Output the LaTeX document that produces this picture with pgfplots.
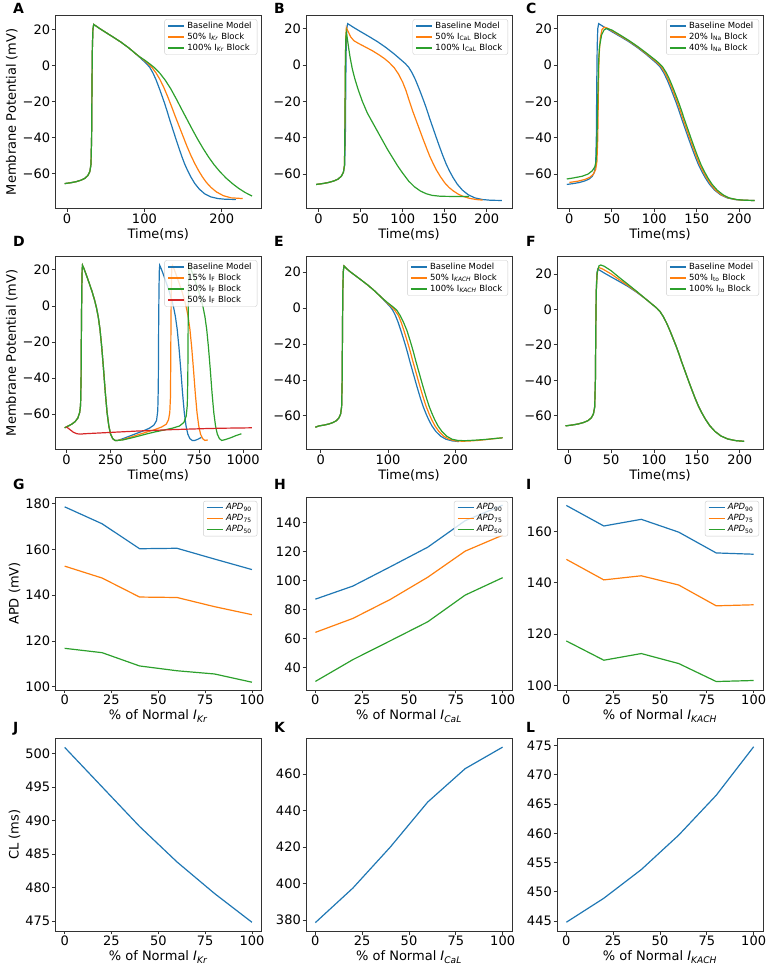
\documentclass[border=0pt]{standalone}
\usepackage{fontspec}
\setmainfont{DejaVu Sans}
\usepackage{pgfplots}
\usepackage{pgfplotstable}
\pgfplotsset{compat=1.18}
\definecolor{c0}{HTML}{1F77B4}
\definecolor{c1}{HTML}{FF7F0E}
\definecolor{c2}{HTML}{2CA02C}
\definecolor{c3}{HTML}{D62728}
\newcommand{\fs}[1]{\fontsize{#1}{#1}\selectfont}
\newcommand{\sub}[1]{\textsubscript{#1}}

\pgfplotsset{
 panel/.style={
  scale only axis, width=206pt, height=193pt, anchor=south west,
  axis line style={black!80, line width=0.7pt},
  tick align=outside, tick pos=left,
  major tick length=3.5pt,
  tick style={black!80, line width=0.7pt},
  ticklabel style={font=\fs{13}, inner sep=1.5pt},
  xlabel style={font=\fs{13}},
  ylabel style={font=\fs{13}},
  legend cell align=left,
  legend image code/.code={\draw[##1, line width=1.2pt] (0pt,0pt) -- (16pt,0pt);},
  legend style={at={(1,1)}, anchor=north east, xshift=-4pt, yshift=-4pt, draw=black!20, fill=white, fill opacity=0.8, text opacity=1, rounded corners=2pt, font=\fs{8.5}, inner xsep=3pt, inner ysep=2.5pt, row sep=3pt, nodes={inner xsep=2.5pt, inner ysep=0pt, text height=6.3pt, text depth=1.7pt}},
  every axis plot/.append style={line width=1.2pt},
 },
 apdticks/.style={xmin=-5, xmax=105, xtick={0,25,50,75,100}, xticklabels={0,25,50,75,100}},
}

% ---------- shared baseline action potential ----------
\pgfplotstableread{
t v
-3 -65.7
5 -65.2
12 -64.6
18 -63.8
23 -62.8
27 -61.2
29.5 -59
31 -55
31.8 -40
32.3 -10
32.8 10
33.5 20
34.5 22.7
37 22
42 20.5
50 18.3
60 15.6
70 12.8
80 9.6
90 6
}\headA
\pgfplotstableread{
t v
-8 -66.4
-3 -65.7
5 -65.2
12 -64.6
18 -63.8
23 -62.8
27 -61.2
29.5 -59
31 -55
31.8 -40
32.3 -10
32.8 10
33.5 20.5
34.5 23.5
37 22.5
42 20.8
50 18.5
60 15.7
70 12.8
80 9.6
90 6
}\headE
\pgfplotstableread{
t v
90 6
98 2.8
103 0.8
107 -1.2
111 -4.2
115 -8
119 -12.5
123 -17.3
126 -21
129 -25
132 -29.3
135 -33.3
138 -37.3
141 -41.3
144 -45.2
148 -50.2
152 -54.8
156 -58.6
160 -62
165 -65.6
171 -68.8
178 -71.4
186 -73.1
195 -74
205 -74.4
218 -74.5
}\tailBase
% ---------- A ----------
\pgfplotstableread{
t v
90 6
95 4.3
100 2.7
105 0.9
110 -1.3
115 -4.2
120 -7.8
125 -12.2
130 -17.3
135 -22.8
140 -28.5
145 -34
150 -39.5
155 -45
160 -50
165 -54.5
170 -58.5
175 -62
180 -65
186 -67.8
193 -70.3
202 -72.4
212 -73.6
227 -74
}\tailAo
\pgfplotstableread{
t v
90 6
95 4.4
100 3
106 1.1
113 -1.3
120 -4.4
127 -8.3
134 -13
141 -18.5
148 -24.3
155 -30
162 -35.7
169 -41.2
176 -46.3
183 -51
190 -55.2
198 -59.3
206 -62.8
214 -65.8
222 -68.4
230 -70.6
239 -72.6
}\tailAg
% ---------- B ----------
\pgfplotstableread{
t v
-3 -65.7
5 -65.2
12 -64.6
18 -63.8
23 -62.8
27 -61.2
29.5 -59
30.8 -55
31.3 -30
31.8 0
32.3 15
33 20.5
35 18.5
38 15.5
42 13.3
48 11.7
55 10
64 7.8
72 5.5
78 3.6
84 1.3
90 -1.6
95 -5
100 -9.5
104 -14.2
108 -20
112 -25.5
116 -30.5
120 -35.5
124 -40.5
128 -45.3
132 -50
136 -54
140 -57.7
145 -61.5
150 -64.8
155 -67.3
160 -69.2
166 -71
172 -72.3
180 -73.4
188 -74
195 -74.3
}\Bo
\pgfplotstableread{
t v
-3 -65.7
5 -65.2
12 -64.6
18 -63.8
23 -62.8
27 -61.2
29.5 -59
30.8 -55
31.3 -30
31.8 0
32.3 14
33 18
34 15
35.5 10
37.5 4
40 -2
43 -7.5
47 -13.5
52 -20
58 -26.5
64 -31.5
70 -36.5
76 -41.5
82 -46.5
88 -51
94 -55.5
100 -59.5
107 -63.8
114 -67
121 -69.3
128 -70.8
135 -71.7
145 -72.2
160 -72.3
179 -72.3
}\Bg
% ---------- C ----------
\pgfplotstableread{
t v
0 -64.6
10 -63.9
18 -63
24 -61.8
28 -60.2
31 -57.5
32.5 -53
33.5 -40
34.2 -15
35 5
36.5 15
38.5 19.5
41 20.8
45 20.2
50 18.8
60 16
70 13.2
80 10
90 6.4
99.5 2.8
104.5 0.8
108.5 -1.2
112.5 -4.2
116.5 -8
120.5 -12.5
124.5 -17.3
127.5 -21
130.5 -25
133.5 -29.3
136.5 -33.3
139.5 -37.3
142.5 -41.3
145.5 -45.2
149.5 -50.2
153.5 -54.8
157.5 -58.6
161.5 -62
166.5 -65.6
172 -68.8
179 -71.4
187 -73.1
196 -74
206 -74.4
218 -74.5
}\Co
\pgfplotstableread{
t v
-3 -62.7
5 -62.1
15 -61.2
22 -60
27 -58.2
30 -56
31.5 -53
32.5 -42
33.3 -22
34.3 0
35.5 10
38 16.5
41 19.3
44 20.1
50 19.2
60 16.4
70 13.5
80 10.3
90 6.8
101 2.8
106 0.8
110 -1.2
114 -4.2
118 -8
122 -12.5
126 -17.3
129 -21
132 -25
135 -29.3
138 -33.3
141 -37.3
144 -41.3
147 -45.2
151 -50.2
155 -54.8
159 -58.6
163 -62
168 -65.6
174 -68.8
181 -71.4
188 -73.1
197 -74
207 -74.4
218 -74.5
}\Cg
% ---------- D ----------
\pgfplotstableread{
t v
-10 -67.5
10 -66.5
30 -65.5
50 -64
65 -62
75 -59
80 -55
83 -40
85 -10
87 10
89 20
91 22.5
100 20.5
115 16.5
130 12.3
145 8
160 3
170 -1
180 -6
190 -13
200 -23
210 -35
220 -48
230 -59
240 -66.5
250 -71
262 -73.5
275 -74.5
290 -74.5
}\Dfirst
\pgfplotstableread{
t v
290 -74.5
320 -73.5
360 -72
400 -70.5
440 -69
470 -67.7
495 -66
510 -63.5
517 -58
520 -45
522 -10
524 10
526 20
528 22.5
537 20.5
552 16.5
567 12.3
582 8
597 3
607 -1
617 -6
627 -13
637 -23
647 -35
657 -48
667 -59
677 -66.5
687 -71
699 -73.5
712 -74.5
727 -74.5
745 -73.8
764 -72.8
}\Db
\pgfplotstableread{
t v
290 -74.5
320 -74
360 -72.8
400 -71.5
450 -70
500 -68.5
540 -67
565 -65.5
578 -63
585 -59
589 -50
591 -20
593 5
595 17
597 21.5
600 22.5
609 20.5
624 16.5
639 12.3
654 8
669 3
679 -1
689 -6
699 -13
709 -23
719 -35
729 -48
739 -59
749 -66.5
759 -71
771 -73.5
784 -74.5
800 -74.2
}\Do
\pgfplotstableread{
t v
290 -74.5
320 -74.2
360 -73.3
400 -72.3
450 -71
500 -69.8
550 -68.8
600 -67.7
640 -66.5
665 -64.5
678 -61
684 -55
687 -40
689 -10
691 10
693 20
695 22.3
704 20.5
719 16.5
734 12.3
749 8
764 3
774 -1
784 -6
794 -13
804 -23
814 -35
824 -48
834 -59
844 -66.5
854 -71
866 -73.5
879 -74.5
900 -74
930 -73
960 -71.8
990 -70.8
}\Dg
\pgfplotstableread{
t v
0 -67
20 -68.5
40 -70
60 -70.8
80 -71
100 -70.8
200 -70.3
300 -69.8
400 -69.3
500 -68.9
600 -68.5
700 -68.2
800 -67.9
900 -67.7
1050 -67.5
}\Dr
% ---------- E ----------
\pgfplotstableread{
t v
90 6
99 2.8
105 0.8
110 -1.2
115.5 -4.2
119.5 -8
123.5 -12.5
127.5 -17.3
130.5 -21
133.5 -25
136.5 -29.3
139.5 -33.3
142.5 -37.3
145.5 -41.3
148.5 -45.2
152.5 -50.2
156.5 -54.8
160.5 -58.6
164.5 -62
169.5 -65.6
175.5 -68.8
182.5 -71.4
190.5 -73.1
199.5 -74
210 -74.2
220 -74.1
235 -73.7
250 -73.1
262 -72.6
270 -72.3
}\tailEo
\pgfplotstableread{
t v
90 6
100 2.8
107 0.8
113 -1.2
118 -4.2
123 -8
128 -12.5
132 -17.3
135 -21
138 -25
141 -29.3
144 -33.3
147 -37.3
150 -41.3
153 -45.2
157 -50.2
161 -54.8
165 -58.6
169 -62
174 -65.6
180 -68.8
187 -71.4
195 -73.1
204 -73.8
215 -73.9
230 -73.6
245 -73.2
258 -72.7
270 -72.3
}\tailEg
% ---------- F ----------
\pgfplotstableread{
t v
-3 -65.7
5 -65.2
12 -64.6
18 -63.8
23 -62.8
27 -61.2
29.5 -59
31 -55
31.8 -40
32.3 -10
32.8 10
33.7 20
35.5 23.6
40 22.8
50 20
60 16.6
70 13.3
80 9.8
90 6
}\headFo
\pgfplotstableread{
t v
-3 -65.7
5 -65.2
12 -64.6
18 -63.8
23 -62.8
27 -61.2
29.5 -59
31 -55
31.8 -40
32.3 -10
32.8 10
34 21
36 24.5
38 25
42 24.3
50 21.8
60 17.8
70 14
80 10.1
90 6
}\headFg

\begin{document}
\begin{tikzpicture}
\useasboundingbox (0,0) rectangle (766pt,965pt);

% ================= Row 1 =================
\begin{axis}[panel, at={(55.3pt,756.7pt)}, xmin=-15.1, xmax=251, ymin=-79.4, ymax=27.8,
 xtick={0,100,200}, xticklabels={0,100,200},
 ytick={-60,-40,-20,0,20}, yticklabels={−60,−40,−20,0,20},
 xlabel={Time(ms)}, ylabel={Membrane Potential (mV)}]
\addplot[c0, forget plot] table {\headA};
\addplot[c0] table {\tailBase}; \addlegendentry{Baseline Model}
\addplot[c1, forget plot] table {\headA};
\addplot[c1] table {\tailAo}; \addlegendentry{50\% I\sub{\textit{Kr}} Block}
\addplot[c2, forget plot] table {\headA};
\addplot[c2] table {\tailAg}; \addlegendentry{100\% I\sub{\textit{Kr}} Block}
\end{axis}

\begin{axis}[panel, at={(306pt,756.7pt)}, xmin=-15, xmax=230, ymin=-78.8, ymax=27.3,
 xtick={0,50,100,150,200}, xticklabels={0,50,100,150,200},
 ytick={-60,-40,-20,0,20}, yticklabels={−60,−40,−20,0,20},
 xlabel={Time(ms)}]
\addplot[c0, forget plot] table {\headA};
\addplot[c0] table {\tailBase}; \addlegendentry{Baseline Model}
\addplot[c1] table {\Bo}; \addlegendentry{50\% I\sub{CaL} Block}
\addplot[c2] table {\Bg}; \addlegendentry{100\% I\sub{CaL} Block}
\end{axis}

\begin{axis}[panel, at={(557pt,756.7pt)}, xmin=-14.5, xmax=228, ymin=-78.8, ymax=27.3,
 xtick={0,50,100,150,200}, xticklabels={0,50,100,150,200},
 ytick={-60,-40,-20,0,20}, yticklabels={−60,−40,−20,0,20},
 xlabel={Time(ms)}]
\addplot[c0, forget plot] table {\headA};
\addplot[c0] table {\tailBase}; \addlegendentry{Baseline Model}
\addplot[c1] table {\Co}; \addlegendentry{20\% I\sub{Na} Block}
\addplot[c2] table {\Cg}; \addlegendentry{40\% I\sub{Na} Block}
\end{axis}

% ================= Row 2 =================
\begin{axis}[panel, at={(55.3pt,515.7pt)}, xmin=-63, xmax=1103, ymin=-79.4, ymax=27.5,
 xtick={0,250,500,750,1000}, xticklabels={0,250,500,750,1000},
 ytick={-60,-40,-20,0,20}, yticklabels={−60,−40,−20,0,20},
 xlabel={Time(ms)}, ylabel={Membrane Potential (mV)}]
\addplot[c0, forget plot] table {\Dfirst};
\addplot[c0] table {\Db}; \addlegendentry{Baseline Model}
\addplot[c1, forget plot] table {\Dfirst};
\addplot[c1] table {\Do}; \addlegendentry{15\% I\sub{F} Block}
\addplot[c2, forget plot] table {\Dfirst};
\addplot[c2] table {\Dg}; \addlegendentry{30\% I\sub{F} Block}
\addplot[c3] table {\Dr}; \addlegendentry{50\% I\sub{F} Block}
\end{axis}

\begin{axis}[panel, at={(306pt,515.7pt)}, xmin=-21.9, xmax=284, ymin=-78.7, ymax=28.9,
 xtick={0,100,200}, xticklabels={0,100,200},
 ytick={-60,-40,-20,0,20}, yticklabels={−60,−40,−20,0,20},
 xlabel={Time(ms)}]
\addplot[c0, forget plot] table {\headE};
\addplot[c0, restrict x to domain=-20:215] table {\tailBase}; \addlegendentry{Baseline Model}
\addplot[c1, forget plot] table {\headE};
\addplot[c1] table {\tailEo}; \addlegendentry{50\% I\sub{\textit{KACH}} Block}
\addplot[c2, forget plot] table {\headE};
\addplot[c2] table {\tailEg}; \addlegendentry{100\% I\sub{\textit{KACH}} Block}
\end{axis}

\begin{axis}[panel, at={(557pt,515.7pt)}, xmin=-12.9, xmax=227, ymin=-78.9, ymax=29.9,
 xtick={0,50,100,150,200}, xticklabels={0,50,100,150,200},
 ytick={-60,-40,-20,0,20}, yticklabels={−60,−40,−20,0,20},
 xlabel={Time(ms)}]
\addplot[c0, forget plot] table {\headA};
\addplot[c0, restrict x to domain=-20:207] table {\tailBase}; \addlegendentry{Baseline Model}
\addplot[c1, forget plot] table {\headFo};
\addplot[c1, restrict x to domain=-20:216] table {\tailBase}; \addlegendentry{50\% I\sub{to} Block}
\addplot[c2, forget plot] table {\headFg};
\addplot[c2, restrict x to domain=-20:207] table {\tailBase}; \addlegendentry{100\% I\sub{to} Block}
\end{axis}

% ================= Row 3 =================
\begin{axis}[panel, apdticks, at={(55.3pt,275pt)}, ymin=98.6, ymax=182.9,
 ytick={100,120,140,160,180}, yticklabels={100,120,140,160,180},
 xlabel={\% of Normal \textit{I}\sub{\textit{Kr}}}, ylabel={APD (mV)}]
\addplot[c0] coordinates {(0,178.6)(20,171.2)(40,160.3)(60,160.5)(80,155.8)(100,151.2)}; \addlegendentry{\textit{APD}\sub{90}}
\addplot[c1] coordinates {(0,152.7)(20,147.5)(40,139.2)(60,139)(80,135)(100,131.5)}; \addlegendentry{\textit{APD}\sub{75}}
\addplot[c2] coordinates {(0,116.8)(20,114.9)(40,109.1)(60,107)(80,105.6)(100,102)}; \addlegendentry{\textit{APD}\sub{50}}
\end{axis}

\begin{axis}[panel, apdticks, at={(306pt,275pt)}, ymin=24.6, ymax=157.6,
 ytick={40,60,80,100,120,140}, yticklabels={40,60,80,100,120,140},
 xlabel={\% of Normal \textit{I}\sub{\textit{CaL}}}]
\addplot[c0] coordinates {(0,87.2)(20,96.2)(40,109.5)(60,123)(80,141.3)(100,152)}; \addlegendentry{\textit{APD}\sub{90}}
\addplot[c1] coordinates {(0,64.3)(20,73.9)(40,87)(60,102.3)(80,120.3)(100,131.3)}; \addlegendentry{\textit{APD}\sub{75}}
\addplot[c2] coordinates {(0,30.5)(20,45.5)(40,58.5)(60,71.6)(80,90)(100,102)}; \addlegendentry{\textit{APD}\sub{50}}
\end{axis}

\begin{axis}[panel, apdticks, at={(557pt,275pt)}, ymin=98.2, ymax=173.4,
 ytick={100,120,140,160}, yticklabels={100,120,140,160},
 xlabel={\% of Normal \textit{I}\sub{\textit{KACH}}}]
\addplot[c0] coordinates {(0,170.1)(20,162.1)(40,164.7)(60,159.7)(80,151.6)(100,151.1)}; \addlegendentry{\textit{APD}\sub{90}}
\addplot[c1] coordinates {(0,149.1)(20,141.1)(40,142.7)(60,139.1)(80,131)(100,131.4)}; \addlegendentry{\textit{APD}\sub{75}}
\addplot[c2] coordinates {(0,117.3)(20,109.8)(40,112.4)(60,108.5)(80,101.5)(100,101.9)}; \addlegendentry{\textit{APD}\sub{50}}
\end{axis}

% ================= Row 4 =================
\begin{axis}[panel, apdticks, at={(55.3pt,34pt)}, ymin=473.5, ymax=502.3,
 ytick={475,480,485,490,495,500}, yticklabels={475,480,485,490,495,500},
 xlabel={\% of Normal \textit{I}\sub{\textit{Kr}}}, ylabel={CL (ms)}]
\addplot[c0] coordinates {(0,500.9)(20,495)(40,489.1)(60,483.8)(80,479.1)(100,474.8)};
\end{axis}

\begin{axis}[panel, apdticks, at={(306pt,34pt)}, ymin=374, ymax=479.8,
 ytick={380,400,420,440,460}, yticklabels={380,400,420,440,460},
 xlabel={\% of Normal \textit{I}\sub{\textit{CaL}}}]
\addplot[c0] coordinates {(0,378.6)(20,397.5)(40,420)(60,444.7)(80,463)(100,474.8)};
\end{axis}

\begin{axis}[panel, apdticks, at={(557pt,34pt)}, ymin=443.3, ymax=476.3,
 ytick={445,450,455,460,465,470,475}, yticklabels={445,450,455,460,465,470,475},
 xlabel={\% of Normal \textit{I}\sub{\textit{KACH}}}]
\addplot[c0] coordinates {(0,444.8)(20,448.9)(40,453.8)(60,459.7)(80,466.5)(100,474.8)};
\end{axis}

% ================= Panel letters =================
\begin{scope}[every node/.style={anchor=base west, font=\bfseries\fs{14}, inner sep=0pt}]
\node at (13pt,951.7pt) {A};
\node at (274pt,951.7pt) {B};
\node at (526pt,951.7pt) {C};
\node at (13pt,718pt) {D};
\node at (274pt,718pt) {E};
\node at (526pt,718pt) {F};
\node at (13pt,475pt) {G};
\node at (274pt,475pt) {H};
\node at (526pt,475pt) {I};
\node at (13pt,232pt) {J};
\node at (274pt,232pt) {K};
\node at (526pt,232pt) {L};
\end{scope}
\end{tikzpicture}
\end{document}
